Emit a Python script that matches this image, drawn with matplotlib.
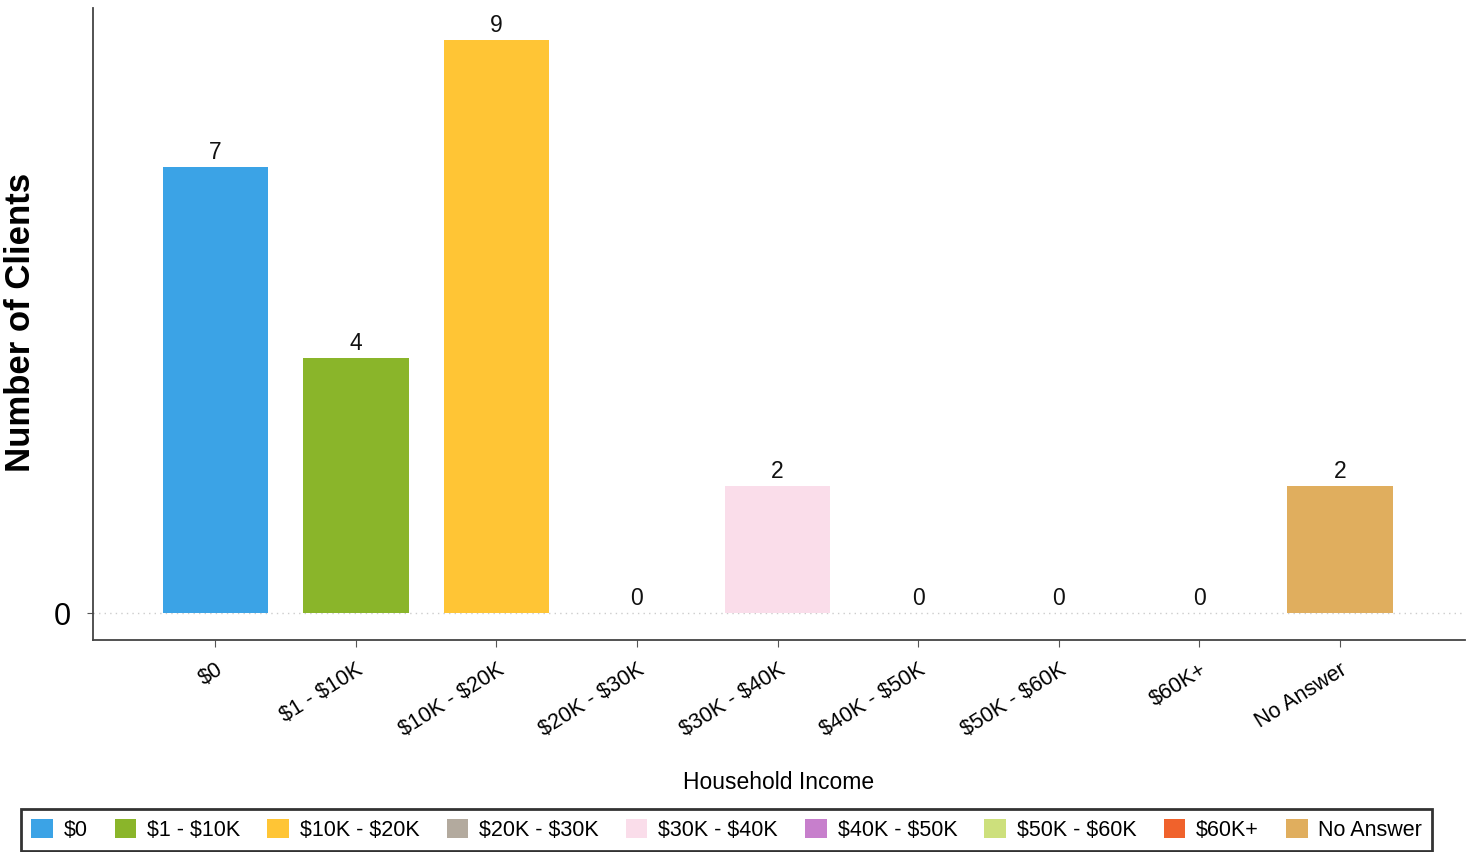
import matplotlib
matplotlib.use("Agg")
import matplotlib.pyplot as plt
from matplotlib.patches import Patch

plt.rcParams["text.parse_math"] = False
plt.rcParams["font.family"] = ["Liberation Sans", "DejaVu Sans"]

categories = ["$0", "$1 - $10K", "$10K - $20K", "$20K - $30K", "$30K - $40K",
              "$40K - $50K", "$50K - $60K", "$60K+", "No Answer"]
values = [7, 4, 9, 0, 2, 0, 0, 0, 2]
colors = ["#3BA3E6", "#8AB52A", "#FFC535", "#B3AA9E", "#FADDEA",
          "#C77FCC", "#CDE07C", "#F0622C", "#E0AE5E"]

fig = plt.figure(figsize=(14.71, 8.52), dpi=100)
ax = fig.add_axes([0.0632, 0.2488, 0.9327, 0.7418])

x = list(range(len(categories)))
bars = ax.bar(x, values, width=0.75, color=colors)
for xi, v in zip(x, values):
    ax.text(xi, v + 0.05, str(v), ha="center", va="bottom", fontsize=16.5, color="#111111")

ax.set_xlim(-0.87, 8.89)
ax.set_ylim(-0.42, 9.5)
ax.axhline(0, color="#cccccc", linestyle=(0, (1, 3)), linewidth=1, zorder=0)

ax.set_yticks([0])
ax.set_yticklabels(["0"], fontsize=22)
ax.set_xticks(x)
ax.set_xticklabels(categories, rotation=32, ha="right", rotation_mode="anchor", fontsize=15.5)
ax.tick_params(axis="x", length=5, color="#555555", pad=9)
ax.tick_params(axis="y", length=4, color="#555555", pad=12)

for s in ["top", "right"]:
    ax.spines[s].set_visible(False)
for s in ["left", "bottom"]:
    ax.spines[s].set_color("#444444")
    ax.spines[s].set_linewidth(1.3)

ax.set_ylabel("Number of Clients", fontsize=25, fontweight="bold")
ax.yaxis.set_label_coords(-0.041, 0.503)
ax.set_xlabel("Household Income", fontsize=16.5)
ax.xaxis.set_label_coords(0.5, -0.207)

handles = [Patch(facecolor=c, edgecolor="none") for c in colors]
leg = fig.legend(handles, categories, loc="lower center", ncol=9,
                 bbox_to_anchor=(0.494, -0.011), fontsize=15.5, frameon=True,
                 fancybox=False, handlelength=1.0, handleheight=1.0,
                 handletextpad=0.5, columnspacing=1.27, borderpad=0.45)
leg.get_frame().set_edgecolor("black")
leg.get_frame().set_linewidth(2)

fig.savefig("out.png", dpi=100)
